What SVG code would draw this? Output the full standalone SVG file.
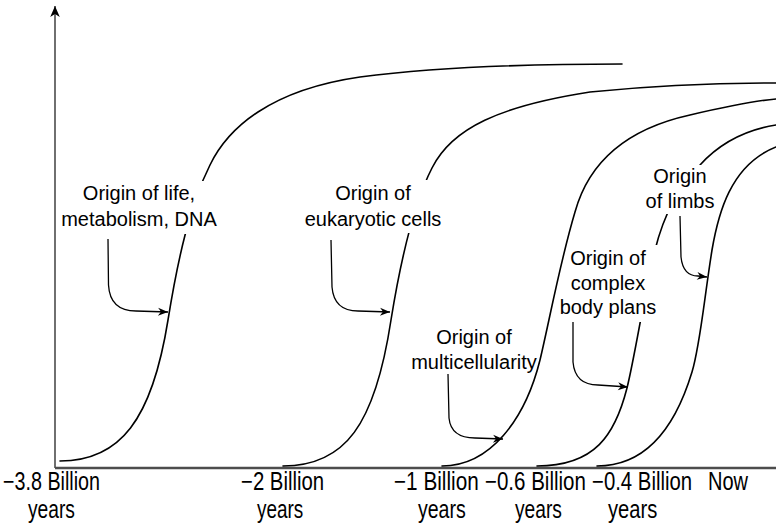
<svg xmlns="http://www.w3.org/2000/svg" width="776" height="524" viewBox="0 0 776 524">
  <style>
    .curve { fill: none; stroke: #000; stroke-width: 1.6; stroke-linecap: round; }
    .pointer { fill: none; stroke: #000; stroke-width: 1.3; }
    .label { font-family: "Liberation Sans", Arial, sans-serif; font-size: 20px; fill: #000; text-anchor: middle; }
    .tick { font-family: "Liberation Sans", Arial, sans-serif; font-size: 25px; fill: #000; }
    .knock { fill: #fff; stroke: none; }
  </style>
  <defs>
    <marker id="head" markerUnits="userSpaceOnUse" markerWidth="12" markerHeight="10" viewBox="-11 -5 12 10" refX="0" refY="0" orient="auto">
      <path d="M0,0 L-10,-4 L-7,0 L-10,4 Z" fill="#000"/>
    </marker>
    <marker id="axisHead" markerUnits="userSpaceOnUse" markerWidth="14" markerHeight="12" viewBox="-12 -6 13 12" refX="0" refY="0" orient="auto">
      <path d="M0,0 L-11,-4.8 L-8,0 L-11,4.8 Z" fill="#000"/>
    </marker>
  </defs>

  <!-- axes -->
  <g id="axes">
    <line x1="55" y1="468" x2="55" y2="6" stroke="#333" stroke-width="1.4" marker-end="url(#axisHead)"/>
    <line x1="55" y1="468" x2="776" y2="468" stroke="#4d4d4d" stroke-width="2.6"/>
  </g>

  <!-- growth curves, one per origin -->
  <g id="curves">
    <path id="curve-life" class="curve" d="M60,461 C120,461 152,420 168,320 C178,258 190,205 210,165 C228,128 270,90 360,77 C430,68 520,64 622,64"/>
    <path id="curve-eukaryote" class="curve" d="M283,466 C345,466 375,425 391,320 C401,258 413,205 432,168 C452,128 500,106 590,92 C650,86 720,83 776,83"/>
    <path id="curve-multicell" class="curve" d="M442,466 C490,466 525,420 540,360 C550,318 560,262 575,212 C588,165 622,130 690,115 C720,108 750,101 776,99"/>
    <path id="curve-bodyplan" class="curve" d="M537,466 C595,466 615,435 627,388 C635,356 645,290 655,250 C662,222 675,190 700,165 C720,143 745,130 776,125"/>
    <path id="curve-limbs" class="curve" d="M597,466 C645,466 675,428 692,372 C700,346 704,300 712,250 C718,215 730,165 776,147"/>
  </g>

  <!-- pointers from labels to curves -->
  <g id="connectors">
    <path class="pointer" d="M108,239 L108.5,285 Q110,311 136,311 L168,312" marker-end="url(#head)"/>
    <path class="pointer" d="M331,240 L332,287 Q334,311 358,311 L390,312" marker-end="url(#head)"/>
    <path class="pointer" d="M448,374 L449,418 Q451,438 475,438 L503,439" marker-end="url(#head)"/>
    <path class="pointer" d="M573,322 L573,362 Q575,385 598,385 L628,387" marker-end="url(#head)"/>
    <path class="pointer" d="M680,216 L681,257 Q683,276 698,276 L707,277" marker-end="url(#head)"/>
  </g>

  <!-- labels -->
  <g id="label-life">
    <rect class="knock" x="184" y="181" width="31" height="53"/>
    <text class="label" x="139" y="200">Origin of life,</text>
    <text class="label" x="139" y="226">metabolism, DNA</text>
  </g>
  <g id="label-eukaryote">
    <rect class="knock" x="405" y="180" width="42" height="53"/>
    <text class="label" x="373" y="200">Origin of</text>
    <text class="label" x="373" y="226">eukaryotic cells</text>
  </g>
  <g id="label-multicell">
    <text class="label" x="474" y="344">Origin of</text>
    <text class="label" x="474" y="369">multicellularity</text>
  </g>
  <g id="label-bodyplan">
    <rect class="knock" x="636" y="245" width="26" height="77"/>
    <text class="label" x="608" y="265">Origin of</text>
    <text class="label" x="608" y="290">complex</text>
    <text class="label" x="608" y="314">body plans</text>
  </g>
  <g id="label-limbs">
    <rect class="knock" x="660" y="165" width="42" height="49"/>
    <text class="label" x="680" y="183">Origin</text>
    <text class="label" x="680" y="208">of limbs</text>
  </g>

  <!-- time axis ticks, set in a condensed face (horizontal scale 0.77) -->
  <g id="ticks">
    <text class="tick" transform="translate(3,490) scale(0.77,1)" textLength="126" lengthAdjust="spacingAndGlyphs">−3.8 Billion</text>
    <text class="tick" transform="translate(28,518) scale(0.77,1)" textLength="61" lengthAdjust="spacingAndGlyphs">years</text>
    <text class="tick" transform="translate(241,490) scale(0.77,1)" textLength="108" lengthAdjust="spacingAndGlyphs">−2 Billion</text>
    <text class="tick" transform="translate(257,518) scale(0.77,1)" textLength="60" lengthAdjust="spacingAndGlyphs">years</text>
    <text class="tick" transform="translate(394,490) scale(0.77,1)" textLength="110" lengthAdjust="spacingAndGlyphs">−1 Billion</text>
    <text class="tick" transform="translate(418,518) scale(0.77,1)" textLength="62" lengthAdjust="spacingAndGlyphs">years</text>
    <text class="tick" transform="translate(485,490) scale(0.77,1)" textLength="131" lengthAdjust="spacingAndGlyphs">−0.6 Billion</text>
    <text class="tick" transform="translate(515,518) scale(0.77,1)" textLength="61" lengthAdjust="spacingAndGlyphs">years</text>
    <text class="tick" transform="translate(592,490) scale(0.77,1)" textLength="130" lengthAdjust="spacingAndGlyphs">−0.4 Billion</text>
    <text class="tick" transform="translate(608,518) scale(0.77,1)" textLength="64" lengthAdjust="spacingAndGlyphs">years</text>
    <text class="tick" transform="translate(708,490) scale(0.77,1)" textLength="52" lengthAdjust="spacingAndGlyphs">Now</text>
  </g>
</svg>
